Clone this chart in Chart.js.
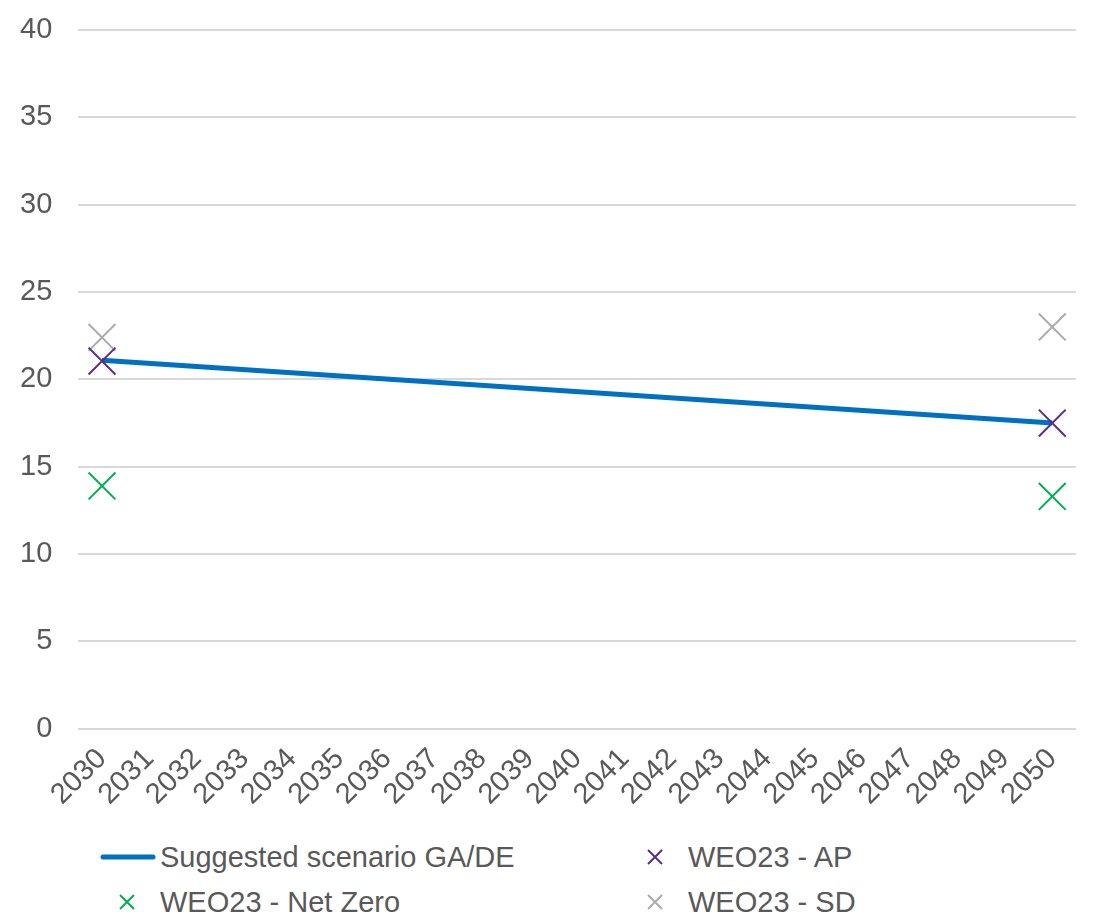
<!DOCTYPE html>
<html>
<head>
<meta charset="utf-8">
<script src="https://cdn.jsdelivr.net/npm/chart.js@4/dist/chart.umd.min.js"></script>
<style>
    html, body { margin: 0; padding: 0; background: #fff; }
    #wrap { position: relative; width: 1109px; height: 916px; }
    #box { position: absolute; left: 0; top: 0; width: 1109px; height: 829px; }
    .leg { position: absolute; font-family: 'Liberation Sans', Arial, sans-serif; font-size: 29px; color: #595959; line-height: 34px; white-space: nowrap; }
    .leg svg { position: absolute; }
</style>
</head>
<body>
<div id="wrap">
    <div id="box"><canvas id="scenario-chart"></canvas></div>
    <div id="legend"></div>
</div>
<script>
var years = ['2030', '2031', '2032', '2033', '2034', '2035', '2036', '2037', '2038', '2039', '2040',
             '2041', '2042', '2043', '2044', '2045', '2046', '2047', '2048', '2049', '2050'];
var gap19 = [null, null, null, null, null, null, null, null, null, null, null, null, null, null, null, null, null, null, null];

var suggested = [21.1].concat(gap19, [17.5]);
var weoAP = [21.05].concat(gap19, [17.5]);
var weoNetZero = [13.9].concat(gap19, [13.3]);
var weoSD = [22.4].concat(gap19, [23.0]);

var yTicks = [0, 5, 10, 15, 20, 25, 30, 35, 40];

var ScenarioChart = (function(){
    var elem = 'scenario-chart';
    var font = "'Liberation Sans', Arial, sans-serif";
    var txt = '#595959';
    var yPad = 26;

    var marker = function (label, data, color) {
        return {
            label: label,
            data: data,
            showLine: false,
            borderColor: color,
            backgroundColor: color,
            pointStyle: 'crossRot',
            pointRadius: 19,
            pointBorderWidth: 2,
            order: 1
        };
    };

    var init = function () {
        Chart.defaults.font.family = font;
        Chart.defaults.color = txt;

        new Chart(elem, {
            type: 'line',
            data: {
                labels: years,
                datasets: [
                    {
                        label: 'Suggested scenario GA/DE',
                        data: suggested,
                        borderColor: '#0070C0',
                        backgroundColor: '#0070C0',
                        borderWidth: 5,
                        pointRadius: 0,
                        spanGaps: true,
                        order: 2
                    },
                    marker('WEO23 - AP', weoAP, '#5B2C86'),
                    marker('WEO23 - Net Zero', weoNetZero, '#00B050'),
                    marker('WEO23 - SD', weoSD, '#ABABAB')
                ]
            },
            options: {
                responsive: true,
                maintainAspectRatio: false,
                animation: false,
                layout: { padding: { left: 20, right: 33, top: 30, bottom: 4 } },
                plugins: {
                    legend: { display: false },
                    tooltip: { enabled: false }
                },
                scales: {
                    x: {
                        offset: true,
                        grid: { display: false, drawTicks: false },
                        border: { display: false },
                        ticks: {
                            font: { size: 29 },
                            color: txt,
                            maxRotation: 45,
                            minRotation: 45,
                            autoSkip: false,
                            padding: 13
                        },
                        afterFit: function (scale) {
                            // first rotated label may hang into the y label area
                            scale.paddingLeft = 0;
                            scale.paddingRight = 0;
                        }
                    },
                    y: {
                        min: 0,
                        max: 40,
                        afterBuildTicks: function (axis) {
                            axis.ticks = yTicks.map(function (v) { return { value: v }; });
                        },
                        afterFit: function (scale) {
                            // chart.js counts the tick padding twice in the width
                            scale.width -= yPad;
                            scale.paddingTop = 0;
                            scale.paddingBottom = 0;
                        },
                        grid: { color: '#D9D9D9', lineWidth: 2, drawTicks: false },
                        border: { display: false },
                        ticks: {
                            font: { size: 29 },
                            color: txt,
                            padding: yPad
                        }
                    }
                }
            }
        });
    };

    var cross = function (color) {
        return '<svg width="18" height="18" viewBox="0 0 18 18"><path d="M2 2L16 16M16 2L2 16" stroke="' + color + '" stroke-width="2"/></svg>';
    };

    var legend = function () {
        var items = [
            { x: 100, y: 840, label: 'Suggested scenario GA/DE', icon: '<svg width="56" height="6" viewBox="0 0 56 6"><line x1="3" y1="3" x2="53" y2="3" stroke="#0070C0" stroke-width="5" stroke-linecap="round"/></svg>', iconTop: 14, textLeft: 60 },
            { x: 646, y: 840, label: 'WEO23 - AP', icon: cross('#5B2C86'), iconTop: 8, textLeft: 42 },
            { x: 118, y: 885, label: 'WEO23 - Net Zero', icon: cross('#00B050'), iconTop: 8, textLeft: 42 },
            { x: 646, y: 885, label: 'WEO23 - SD', icon: cross('#ABABAB'), iconTop: 8, textLeft: 42 }
        ];
        var html = '';
        items.forEach(function (it) {
            html += '<div class="leg" style="left:' + it.x + 'px;top:' + it.y + 'px;">' +
                '<span style="position:absolute;left:0;top:' + it.iconTop + 'px;">' + it.icon + '</span>' +
                '<span style="position:absolute;left:' + it.textLeft + 'px;top:0;">' + it.label + '</span></div>';
        });
        document.getElementById('legend').innerHTML = html;
    };

    init();
    legend();
    return {};
})();
</script>
</body>
</html>
